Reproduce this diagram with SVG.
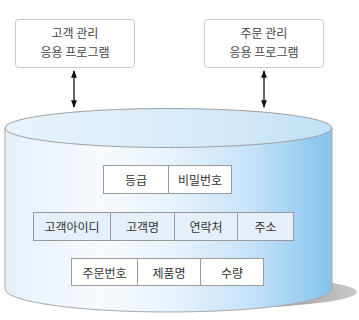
<svg xmlns="http://www.w3.org/2000/svg" width="359" height="320" viewBox="0 0 359 320">
<defs>
<linearGradient id="body" x1="0" y1="0" x2="1" y2="0">
<stop offset="0" stop-color="#e6f0fa"/>
<stop offset="0.3" stop-color="#f6fafe"/>
<stop offset="0.5" stop-color="#e8f3fc"/>
<stop offset="0.75" stop-color="#c6e2f7"/>
<stop offset="1" stop-color="#84c4ee"/>
</linearGradient>
<linearGradient id="top" x1="0" y1="0" x2="1" y2="0">
<stop offset="0" stop-color="#e8f3fd"/>
<stop offset="0.6" stop-color="#d6eafa"/>
<stop offset="1" stop-color="#c2e0f6"/>
</linearGradient>
<linearGradient id="shadow" x1="0" y1="0" x2="1" y2="0">
<stop offset="0.7" stop-color="#9a9a9a"/>
<stop offset="1" stop-color="#c8c8c8"/>
</linearGradient>
<marker id="ah" viewBox="0 0 8 8" refX="7" refY="4" markerWidth="6" markerHeight="6" orient="auto-start-reverse">
<path d="M0,1 L8,4 L0,7 Z" fill="#111"/>
</marker>
</defs>
<style>
.app rect{fill:#fff;stroke:#c8c8c8;stroke-width:1}
.app text{font-family:"Noto Sans CJK KR","Noto Sans",sans-serif;font-size:12px;fill:#444;text-anchor:middle}
.cell rect{stroke:#9a9a9a;stroke-width:1}
.cell text{font-family:"Noto Sans CJK KR","Noto Sans",sans-serif;font-size:12px;fill:#333;text-anchor:middle;dominant-baseline:central}
.w rect{fill:#fff}
.b rect{fill:#e6eff9}
.conn line{stroke:#111;stroke-width:1.3;marker-start:url(#ah);marker-end:url(#ah)}
</style>
<rect width="359" height="320" fill="#fff"/>

<g id="db">
<ellipse cx="196" cy="292" rx="161" ry="17" fill="url(#shadow)"/>
<path d="M5,128 L5,289 A163.5,23 0 0 0 332,289 L332,128 Z" fill="url(#body)" stroke="#a8a8a8" stroke-width="1"/>
<ellipse cx="168.5" cy="128" rx="163.5" ry="19.5" fill="url(#top)" stroke="#a0a0a0" stroke-width="1"/>
</g>

<g id="app-customer" class="app">
<rect x="15.5" y="19.5" width="119" height="48" rx="3"/>
<text x="75" y="38">고객 관리</text>
<text x="75" y="57">응용 프로그램</text>
</g>
<g id="app-order" class="app">
<rect x="204.5" y="19.5" width="119" height="48" rx="3"/>
<text x="264" y="38">주문 관리</text>
<text x="264" y="57">응용 프로그램</text>
</g>

<g id="connectors" class="conn">
<line x1="74" y1="71" x2="74" y2="107"/>
<line x1="264" y1="71" x2="264" y2="107"/>
</g>

<g id="row-grade" class="cell w">
<rect x="103.5" y="165.5" width="65" height="28"/>
<text x="136" y="179.5">등급</text>
<rect x="168.5" y="165.5" width="63" height="28"/>
<text x="200" y="179.5">비밀번호</text>
</g>

<g id="row-customer" class="cell b">
<rect x="33.5" y="212.5" width="77" height="28"/>
<text x="72" y="226.5">고객아이디</text>
<rect x="110.5" y="212.5" width="64" height="28"/>
<text x="142.5" y="226.5">고객명</text>
<rect x="174.5" y="212.5" width="63" height="28"/>
<text x="206" y="226.5">연락처</text>
<rect x="237.5" y="212.5" width="56" height="28"/>
<text x="265.5" y="226.5">주소</text>
</g>

<g id="row-order" class="cell w">
<rect x="71.5" y="258.5" width="66" height="27"/>
<text x="104.5" y="272">주문번호</text>
<rect x="137.5" y="258.5" width="63" height="27"/>
<text x="169" y="272">제품명</text>
<rect x="200.5" y="258.5" width="63" height="27"/>
<text x="232" y="272">수량</text>
</g>
</svg>
